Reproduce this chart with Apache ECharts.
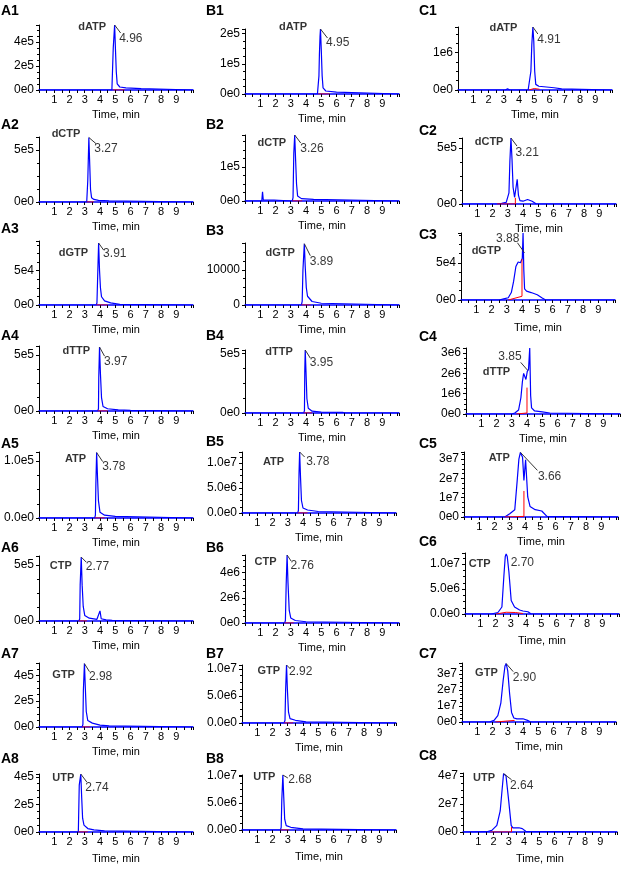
<!DOCTYPE html>
<html>
<head>
<meta charset="utf-8">
<script src="https://cdn.jsdelivr.net/npm/echarts@6/dist/echarts.min.js"></script>
<style>
  html, body { margin: 0; background: #fff; }
  #chart { width: 624px; height: 872px; }
</style>
</head>
<body>
<div id="chart"></div>
<script>
// compounds per row, retention times per column
const compounds = ['dATP', 'dCTP', 'dGTP', 'dTTP', 'ATP', 'CTP', 'GTP', 'UTP'];
const rtA = [4.96, 3.27, 3.91, 3.97, 3.78, 2.77, 2.98, 2.74];
const rtB = [4.95, 3.26, 3.89, 3.95, 3.78, 2.76, 2.92, 2.68];
const rtC = [4.91, 3.21, 3.88, 3.85, 3.66, 2.70, 2.90, 2.64];

// y tick labels as printed on each panel
const ticksA = [['0e0','2e5','4e5'], ['0e0','5e5'], ['0e0','5e4'], ['0e0','5e5'],
                ['0.0e0','1.0e5'], ['0e0','5e5'], ['0e0','2e5','4e5'], ['0e0','2e5','4e5']];
const ticksB = [['0e0','1e5','2e5'], ['0e0','1e5'], ['0','10000'], ['0e0','5e5'],
                ['0.0e0','5.0e6','1.0e7'], ['0e0','2e6','4e6'], ['0.0e0','5.0e6','1.0e7'], ['0.0e0','5.0e6','1.0e7']];
const ticksC = [['0e0','1e6'], ['0e0','5e5'], ['0e0','5e4'], ['0e0','1e6','2e6','3e6'],
                ['0e0','1e7','2e7','3e7'], ['0.0e0','5.0e6','1.0e7'], ['0e0','1e7','2e7','3e7'], ['0e0','2e7','4e7']];

// traces [time, intensity]
const A1 = [[0,0],[4.78,0],[4.84,1e4],[4.87,3.5e5],[4.91,3.4e5],[4.96,5.4e5],[5.02,3.2e5],[5.07,1.5e5],[5.13,5e4],[5.3,2.5e4],[5.7,1.8e4],[6.7,1.2e4],[6.75,0],[10.1,0]];
const A2 = [[0,0],[3.13,0],[3.17,1e4],[3.2,2.1e5],[3.23,2.1e5],[3.27,6.2e5],[3.33,3.5e5],[3.38,1.2e5],[3.45,4e4],[3.6,2.5e4],[3.9,1.5e4],[4.6,1e4],[4.65,0],[10.1,0]];
const A3 = [[0,0],[3.75,0],[3.8,3e3],[3.84,3.5e4],[3.87,3.6e4],[3.91,9.0e4],[3.97,5e4],[4.03,2.5e4],[4.1,1.2e4],[4.3,6e3],[4.7,3e3],[5.3,1e3],[5.4,0],[10.1,0]];
const A4 = [[0,0],[3.85,0],[3.9,2e4],[3.92,3.0e5],[3.95,3.0e5],[3.97,5.7e5],[4.03,3.3e5],[4.1,1.2e5],[4.2,4e4],[4.5,2e4],[5.2,1e4],[6.0,5e3],[6.1,0],[10.1,0]];
const A5 = [[0,0],[3.65,0],[3.7,5e3],[3.73,6e4],[3.75,6e4],[3.78,1.15e5],[3.84,7e4],[3.9,3e4],[4.0,1e4],[4.3,5e3],[5.0,3e3],[5.1,0],[10.1,0]];
const A6 = [[0,0],[2.62,0],[2.67,2e4],[2.7,3.2e5],[2.73,3.1e5],[2.77,5.7e5],[2.83,3.2e5],[2.9,1.3e5],[3.0,5e4],[3.3,2.5e4],[3.8,1.5e4],[3.9,3e4],[4.0,9e4],[4.08,2e4],[4.4,1e4],[4.8,5e3],[4.9,0],[10.1,0]];
const A7 = [[0,0],[2.83,0],[2.88,2e4],[2.91,2.8e5],[2.94,2.8e5],[2.98,4.9e5],[3.04,3.0e5],[3.1,1.2e5],[3.2,5e4],[3.5,3e4],[4.0,1.5e4],[4.6,8e3],[4.7,0],[10.1,0]];
const A8 = [[0,0],[2.58,0],[2.62,1e4],[2.64,3.4e5],[2.68,3.3e5],[2.74,4.2e5],[2.8,2.5e5],[2.86,1.0e5],[2.95,5e4],[3.2,2.5e4],[3.6,1.5e4],[4.3,8e3],[4.4,0],[10.1,0]];

const B1 = [[0,0],[4.75,0],[4.8,5e3],[4.85,6e4],[4.88,1.3e5],[4.92,1.9e5],[4.95,2.15e5],[5.0,1.5e5],[5.06,6e4],[5.12,2e4],[5.3,1e4],[6.0,6e3],[6.05,0],[10.1,0]];
const B2 = [[0,0],[1.1,0],[1.15,2.7e4],[1.2,3e3],[1.3,0],[1.6,3e3],[1.9,3e3],[2.0,0],[3.1,0],[3.15,1e4],[3.2,1.4e5],[3.23,1.4e5],[3.26,1.94e5],[3.32,1.2e5],[3.38,5e4],[3.45,1.5e4],[3.7,7e3],[4.5,5e3],[4.6,0],[10.1,0]];
const B3 = [[0,0],[3.7,0],[3.75,1e3],[3.8,1.0e4],[3.84,1.0e4],[3.89,1.75e4],[3.95,1.1e4],[4.02,5e3],[4.1,2.5e3],[4.4,1e3],[5.0,500],[5.1,0],[10.1,0]];
const B4 = [[0,0],[3.85,0],[3.9,2e4],[3.92,3.5e5],[3.95,5.3e5],[4.0,3.5e5],[4.06,1.2e5],[4.15,4e4],[4.4,1.5e4],[5.0,8e3],[6.4,5e3],[6.5,1.2e4],[6.6,0],[10.1,0]];
const B5 = [[0,0],[3.65,0],[3.7,5e5],[3.74,8e6],[3.78,1.22e7],[3.84,7e6],[3.9,2.5e6],[4.0,1e6],[4.3,6e5],[5.0,3e5],[5.1,0],[10.1,0]];
const B6 = [[0,0],[2.6,0],[2.65,2e5],[2.7,3.0e6],[2.73,3.0e6],[2.76,5.4e6],[2.82,3.2e6],[2.9,1.0e6],[3.0,4e5],[3.3,2e5],[4.0,1e5],[4.1,0],[10.1,0]];
const B7 = [[0,0],[2.76,0],[2.82,5e5],[2.86,6e6],[2.89,6e6],[2.92,1.07e7],[2.98,6e6],[3.05,2e6],[3.15,8e5],[3.5,5e5],[4.2,2e5],[4.3,0],[10.1,0]];
const B8 = [[0,0],[2.52,0],[2.57,5e5],[2.61,5.5e6],[2.64,5.5e6],[2.68,1.02e7],[2.74,6e6],[2.8,2e6],[2.9,8e5],[3.2,5e5],[4.0,2e5],[4.1,0],[10.1,0]];

const C1 = [[0,0],[3.1,0],[3.25,3e4],[3.4,0],[4.6,0],[4.7,5e4],[4.78,5e5],[4.84,1.2e6],[4.91,1.68e6],[4.97,1.3e6],[5.03,5e5],[5.1,1.5e5],[5.3,1e5],[5.8,8e4],[6.3,6e4],[6.8,3e4],[6.85,0],[10.1,0]];
const C2 = [[0,0],[1.1,0],[1.2,3e3],[1.35,0],[2.3,0],[2.6,5e3],[2.9,1.5e4],[3.0,3e4],[3.08,1.0e5],[3.14,3.8e5],[3.21,5.9e5],[3.28,4.0e5],[3.35,1.5e5],[3.45,6e4],[3.55,5e4],[3.62,2.2e5],[3.7,8e4],[3.8,3e4],[4.0,2.5e4],[4.3,4e4],[4.6,2.5e4],[4.85,2e3],[4.9,0],[10.1,0]];
const C3 = [[0,0],[2.5,0],[2.8,1.5e3],[3.1,3e3],[3.3,1.0e4],[3.45,2.5e4],[3.6,4.5e4],[3.75,5.1e4],[3.9,5.0e4],[4.02,5.6e4],[4.07,9.0e4],[4.12,4e4],[4.17,1.5e4],[4.3,1.2e4],[4.6,1.0e4],[5.0,7e3],[5.3,3e3],[5.55,0],[10.1,0]];
const C4 = [[0,0],[3.0,0],[3.2,5e4],[3.45,2e5],[3.6,8e5],[3.7,1.6e6],[3.78,2.0e6],[3.85,2.05e6],[3.93,1.7e6],[4.02,2.1e6],[4.1,2.2e6],[4.18,3.25e6],[4.24,9e5],[4.3,3e5],[4.5,1.5e5],[5.0,1e5],[5.5,5e4],[5.6,0],[10.1,0]];
const C5 = [[0,0],[2.67,0],[3.0,1.7e6],[3.33,3.8e6],[3.49,1.9e7],[3.6,3.0e7],[3.7,3.35e7],[3.84,3.1e7],[3.93,1.9e7],[4.04,2.97e7],[4.18,1.04e7],[4.33,5.5e6],[4.67,3.8e6],[5.1,3.1e6],[5.44,3e5],[5.5,0],[10.1,0]];
const C6 = [[0,0],[1.72,0],[2.16,3e5],[2.42,1.4e6],[2.55,7.6e6],[2.64,1.15e7],[2.7,1.2e7],[2.77,1.15e7],[2.88,8.4e6],[3.03,2.7e6],[3.25,1.4e6],[3.58,8e5],[3.8,6e5],[3.9,7e5],[4.13,4.5e5],[4.23,5e4],[4.34,0],[10.1,0]];
const C7 = [[0,0],[1.8,0],[2.1,1e6],[2.35,4e6],[2.55,1.2e7],[2.7,2.6e7],[2.82,3.5e7],[2.9,3.65e7],[3.0,3.2e7],[3.12,1.8e7],[3.25,6e6],[3.4,2.5e6],[3.6,2e6],[4.0,2e6],[4.3,1e6],[4.5,0],[10.1,0]];
const C8 = [[0,0],[1.56,2e5],[1.89,1.2e6],[2.22,4.7e6],[2.44,1.5e7],[2.58,3.2e7],[2.66,4.15e7],[2.82,4.0e7],[3.0,2.2e7],[3.16,4.7e6],[3.27,3e6],[3.67,3e6],[3.89,2.4e6],[4.11,5e5],[4.22,0],[10.1,0]];

// integration baselines (red)
const A1r = [[4.85,0],[5.62,0]];
const A2r = [[3.12,0],[3.6,0]];
const A3r = [[3.75,0],[4.5,0]];
const A4r = [[3.85,0],[4.5,0]];
const A5r = [[3.65,0],[4.3,0]];
const A6r = [[2.6,0],[3.15,0]];
const A7r = [[2.82,0],[3.35,0]];
const A8r = [[2.58,0],[3.2,0]];
const B1r = [[4.8,0],[5.55,0]];
const B2r = [[3.1,0],[3.75,0]];
const B3r = [[3.7,0],[4.3,0]];
const B4r = [[3.85,0],[4.4,0]];
const B5r = [[3.65,0],[4.3,0]];
const B6r = [[2.6,0],[3.2,0]];
const B7r = [[2.76,0],[3.35,0]];
const B8r = [[2.52,0],[3.1,0]];
const C1r = [[4.65,0],[5.0,4e4],[5.35,2e4]];
const C2r = [[2.3,0],[3.5,0],[3.5,5.5e4]];
const C3r = [[3.1,0],[4.0,5e3],[4.0,5.5e4]];
const C4r = [[3.3,0],[4.0,5e4],[4.0,1.3e6]];
const C5r = [[2.67,0],[3.93,3e5],[3.93,1.35e7]];
const C6r = [[2.05,0],[2.7,3.5e5],[3.3,3e5],[3.8,1e5]];
const C7r = [[2.2,0],[3.45,1e6]];
const C8r = [[1.78,0],[3.18,0],[3.18,3.5e6]];

const traces = [[A1,A2,A3,A4,A5,A6,A7,A8],[B1,B2,B3,B4,B5,B6,B7,B8],[C1,C2,C3,C4,C5,C6,C7,C8]];
const reds = [[A1r,A2r,A3r,A4r,A5r,A6r,A7r,A8r],[B1r,B2r,B3r,B4r,B5r,B6r,B7r,B8r],[C1r,C2r,C3r,C4r,C5r,C6r,C7r,C8r]];
const rts = [rtA, rtB, rtC];
const ticks = [ticksA, ticksB, ticksC];
const colTags = ['A', 'B', 'C'];

// layout: axis left x, axis top y, zero y, y max, name/rt label offsets (px), leader (px), tag y
const W = 154, XMAX = 10.1;
const tagX = [1, 206, 419];
const layout = [
  [ {l:39, t:25,  b:90,  m:5.4e5,  n:[-8,2],  r:[5,14], ld:[0,0,6,8], ty:4},
    {l:39, t:137, b:202, m:6.25e5, n:[-8,-3], r:[6,12], ld:[0,0,7,6], ty:118},
    {l:39, t:241, b:305, m:9.3e4,  n:[-10,10],r:[5,11], ld:[0,0,5,7], ty:222},
    {l:39, t:346, b:411, m:5.8e5,  n:[-9,4],  r:[5,15], ld:[0,0,5,9], ty:329},
    {l:39, t:452, b:518, m:1.16e5, n:[-10,7], r:[6,15], ld:[0,0,6,9], ty:437},
    {l:39, t:556, b:621, m:5.8e5,  n:[-9,9],  r:[5,10], ld:[0,0,5,5], ty:541},
    {l:39, t:663, b:727, m:4.95e5, n:[-9,12], r:[5,14], ld:[0,0,5,8], ty:647},
    {l:39, t:774, b:832, m:4.2e5,  n:[-6,4],  r:[5,14], ld:[0,0,6,8], ty:752, g:21} ],
  [ {l:245, t:29,  b:94,  m:2.15e5, n:[-13,-2],r:[6,14], ld:[0,0,7,9], ty:4},
    {l:245, t:135, b:201, m:1.94e5, n:[-8,8],  r:[6,14], ld:[0,0,6,8], ty:118},
    {l:245, t:243, b:305, m:1.77e4, n:[-9,10], r:[6,18], ld:[0,0,6,12],ty:224},
    {l:245, t:350, b:413, m:5.3e5,  n:[-12,2], r:[5,13], ld:[0,0,5,8], ty:329},
    {l:242, t:452, b:513, m:1.22e7, n:[-15,10],r:[7,10], ld:[0,0,5,5], ty:435},
    {l:245, t:555, b:623, m:5.4e6,  n:[-10,7], r:[4,11], ld:[0,0,4,6], ty:541},
    {l:242, t:665, b:723, m:1.07e7, n:[-6,6],  r:[3,7],  ld:[0,0,4,4], ty:647},
    {l:242, t:775, b:830, m:1.02e7, n:[-7,2],  r:[6,5],  ld:[0,0,5,3], ty:752, g:21} ],
  [ {l:458, t:27,  b:90,  m:1.68e6, n:[-15,1], r:[5,13], ld:[0,0,5,7], ty:4},
    {l:462, t:138, b:204, m:5.9e5,  n:[-7,4],  r:[5,15], ld:[0,0,6,8], ty:124},
    {l:461, t:233, b:300, m:9.0e4,  n:[-19,-11], r:[-24,-24], ld:[-3,-20,4,-10], ty:228, g:22},
    {l:466, t:348, b:414, m:3.25e6, n:[-14,0], r:[-26,-15], ld:[-4,-10,3,-2], ty:330},
    {l:464, t:452, b:517, m:3.37e7, n:[-10,6], r:[18,25], ld:[0,0,17,18], ty:437},
    {l:465, t:553, b:614, m:1.22e7, n:[-15,10],r:[5,9],  ld:null, ty:535, g:21},
    {l:462, t:663, b:722, m:3.69e7, n:[-8,10], r:[7,15], ld:[0,0,7,8], ty:647},
    {l:463, t:773, b:832, m:4.2e7,  n:[-8,5],  r:[7,12], ld:[0,0,8,6], ty:749, g:21} ]
];

const FONT = '"Liberation Sans", Arial, sans-serif';
const grid = [], xAxis = [], yAxis = [], series = [], title = [];

layout.forEach((col, ci) => col.forEach((L, ri) => {
  const i = grid.length;
  const data = traces[ci][ri];
  const rt = rts[ci][ri];
  const tk = ticks[ci][ri];
  const h = L.b - L.t;
  const labelMap = {};
  tk.forEach((s) => { labelMap[Number(s)] = s; });
  const step = Number(tk[1]) - Number(tk[0]);

  grid.push({ left: L.l, top: L.t, width: W, height: h });
  title.push({
    text: colTags[ci] + (ri + 1), left: tagX[ci], top: L.ty, padding: 0,
    textStyle: { fontSize: 14, fontWeight: 'bold', color: '#000', fontFamily: FONT },
  });
  xAxis.push({
    gridIndex: i, type: 'value', min: 0, max: XMAX, interval: 0.5,
    name: 'Time, min', nameLocation: 'middle', nameGap: L.g || 19,
    nameTextStyle: { fontSize: 11, color: '#000', fontFamily: FONT },
    axisLine: { lineStyle: { color: '#0000ff', width: 1.5 } },
    axisTick: { length: 3, lineStyle: { color: '#000' } },
    axisLabel: {
      fontSize: 11, color: '#000', margin: 4, fontFamily: FONT,
      formatter: (v) => (Number.isInteger(v) && v >= 1 && v <= 9 ? String(v) : ''),
    },
    splitLine: { show: false },
  });
  yAxis.push({
    gridIndex: i, type: 'value', min: 0, max: L.m, interval: step,
    axisLine: { show: true, lineStyle: { color: '#000' } },
    axisTick: { show: true, length: 3, lineStyle: { color: '#000' } },
    minorTick: { show: true, splitNumber: 4, length: 2, lineStyle: { color: '#000' } },
    axisLabel: {
      fontSize: 12, color: '#000', margin: 5, fontFamily: FONT,
      formatter: (v) => labelMap[v] ?? '',
    },
    splitLine: { show: false },
  });

  series.push({
    type: 'line', xAxisIndex: i, yAxisIndex: i, data, symbol: 'none', silent: true,
    lineStyle: { color: '#0000ff', width: 1.2 }, z: 2,
  });
  series.push({
    type: 'line', xAxisIndex: i, yAxisIndex: i, data: reds[ci][ri], symbol: 'none', silent: true,
    lineStyle: { color: '#ff0000', width: 1 }, z: 3,
  });

  // labelled point: trace sample nearest to the retention time
  let anchor = data[0];
  data.forEach((p) => { if (Math.abs(p[0] - rt) < Math.abs(anchor[0] - rt)) anchor = p; });
  const pxT = W / XMAX, pxV = h / L.m;
  series.push({
    type: 'scatter', xAxisIndex: i, yAxisIndex: i, symbolSize: 1, silent: true, z: 5,
    itemStyle: { color: 'rgba(0,0,0,0)' },
    data: [
      { value: anchor, label: { show: true, formatter: compounds[ri], position: L.n,
        align: 'right', verticalAlign: 'middle', fontWeight: 'bold', fontSize: 11, color: '#000', fontFamily: FONT } },
      { value: anchor, label: { show: true, formatter: rt.toFixed(2), position: L.r,
        align: 'left', verticalAlign: 'middle', fontSize: 12, color: '#000', fontFamily: FONT } },
    ],
  });
  if (L.ld) {
    const [x1, y1, x2, y2] = L.ld;
    series.push({
      type: 'line', xAxisIndex: i, yAxisIndex: i, symbol: 'none', silent: true, clip: false, z: 4,
      lineStyle: { color: '#333', width: 1 },
      data: [[anchor[0] + x1 / pxT, anchor[1] - y1 / pxV], [anchor[0] + x2 / pxT, anchor[1] - y2 / pxV]],
    });
  }
}));

const chart = echarts.init(document.getElementById('chart'));
chart.setOption({ animation: false, backgroundColor: '#fff', title, grid, xAxis, yAxis, series });
</script>
</body>
</html>
